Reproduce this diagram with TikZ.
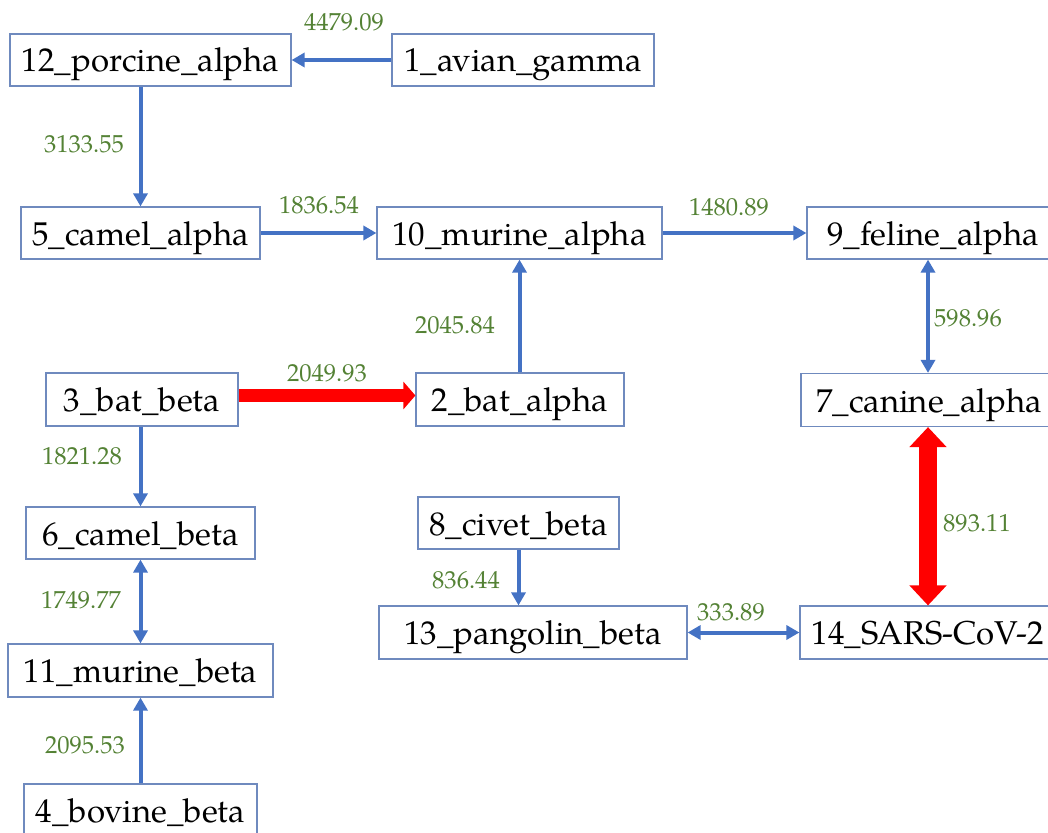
\documentclass[tikz,border=0pt]{standalone}
\usepackage{fontspec}
\setmainfont{TeX Gyre Pagella}
\usetikzlibrary{arrows.meta,positioning,calc}

\definecolor{linkblue}{RGB}{68,114,196}
\definecolor{linkred}{RGB}{255,0,0}
\definecolor{numgreen}{RGB}{84,130,53}
\definecolor{boxline}{RGB}{111,138,190}

\begin{document}
\begin{tikzpicture}[x=1pt,y=-1pt,
      box/.style={draw=boxline,line width=1.2pt,fill=white,minimum height=52pt,
        inner sep=0pt,text height=30pt,text depth=6pt,font=\fontsize{33}{36}\selectfont},
      num/.style={text=numgreen,inner sep=0pt,font=\fontsize{24.6}{27}\selectfont},
      link/.style={linkblue,line width=4pt,-{Triangle[length=13pt,width=14pt]}},
      twoway/.style={linkblue,line width=4pt,{Triangle[length=13pt,width=14pt]}-{Triangle[length=13pt,width=14pt]}},
      hot/.style={linkred,line width=13pt,-{Triangle[length=12pt,width=27pt]}},
      hottwo/.style={linkred,line width=18pt,{Triangle[length=20pt,width=36pt]}-{Triangle[length=20pt,width=36pt]}}
    ]
      \useasboundingbox (0,0) rectangle (1048,832);
      % strains
      \node[box,minimum width=281pt] (porcine) at (150.5,60) {12\_porcine\_alpha};
      \node[box,minimum width=262pt] (avian) at (523,60) {1\_avian\_gamma};
      \node[box,minimum width=239pt] (camelA) at (140.5,233) {5\_camel\_alpha};
      \node[box,minimum width=285pt] (murineA) at (519.5,233) {10\_murine\_alpha};
      \node[box,minimum width=252pt] (feline) at (933,233) {9\_feline\_alpha};
      \node[box,minimum width=192pt,minimum height=53pt] (batB) at (142,399.5) {3\_bat\_beta};
      \node[box,minimum width=208pt,minimum height=53pt] (batA) at (520,399.5) {2\_bat\_alpha};
      \node[box,minimum width=256pt,minimum height=53pt] (canine) at (929,400) {7\_canine\_alpha};
      \node[box,minimum width=229pt] (camelB) at (140.5,533) {6\_camel\_beta};
      \node[box,minimum width=265pt,minimum height=53pt] (murineB) at (140.5,670.5) {11\_murine\_beta};
      \node[box,minimum width=233pt] (bovine) at (140.5,810) {4\_bovine\_beta};
      \node[box,minimum width=201pt] (civet) at (518.5,523) {8\_civet\_beta};
      \node[box,minimum width=308pt,minimum height=53pt] (pangolin) at (533,632.5) {13\_pangolin\_beta};
      \node[box,minimum width=256pt,minimum height=53pt] (sars) at (928,632.5) {14\_SARS-CoV-2};
      % links
      \draw[link] (avian.west) -- (porcine.east);
      \draw[link] (porcine.south -| camelA.north) -- (camelA.north);
      \draw[link] (camelA.east) -- (murineA.west);
      \draw[link] (murineA.east) -- (feline.west);
      \draw[link] (batA.north -| murineA.south) -- (murineA.south);
      \draw[hot] ([yshift=4pt]batB.east) -- ([yshift=4pt]batA.west);
      \draw[link] (batB.south -| camelB.north) -- (camelB.north);
      \draw[twoway] (camelB.south) -- (murineB.north);
      \draw[link] (bovine.north) -- (murineB.south);
      \draw[twoway] ([xshift=-5pt]feline.south) -- ([xshift=-5pt]feline.south |- canine.north);
      \draw[hottwo] ([xshift=-5pt]canine.south -| feline.south) -- ([xshift=-5pt]sars.north -| feline.south);
      \draw[link] (civet.south) -- (civet.south |- pangolin.north);
      \draw[twoway] (pangolin.east) -- (sars.west);
      % weights
      \node[num] (w1) at (344,22) {4479.09};
      \node[num] (w2) at (84,144) {3133.55};
      \node[num] (w3) at (319,205) {1836.54};
      \node[num] (w4) at (729,207) {1480.89};
      \node[num] (w5) at (455,325) {2045.84};
      \node[num] (w6) at (327,373) {2049.93};
      \node[num] (w7) at (82,456) {1821.28};
      \node[num] (w8) at (81,600) {1749.77};
      \node[num] (w9) at (85,745) {2095.53};
      \node[num] (w10) at (968,318) {598.96};
      \node[num] (w11) at (977,523) {893.11};
      \node[num] (w12) at (466,580) {836.44};
      \node[num] (w13) at (731,612) {333.89};
    \end{tikzpicture}
\end{document}
